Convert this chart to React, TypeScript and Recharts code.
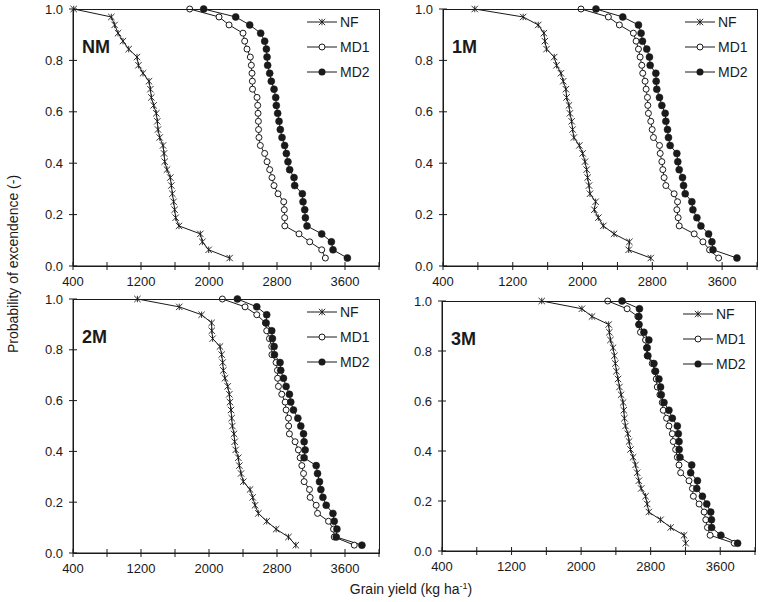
import React from "react";
import { LineChart, Line, XAxis, YAxis } from "recharts";

const probs = [
  1.0, 0.969, 0.938, 0.906, 0.875, 0.844, 0.813, 0.781, 0.75, 0.719, 0.688, 0.656, 0.625, 0.594, 0.563, 0.531,
  0.5, 0.469, 0.438, 0.406, 0.375, 0.344, 0.313, 0.281, 0.25, 0.219, 0.188, 0.156, 0.125, 0.094, 0.063, 0.031,
];

const xTicks = [400, 800, 1200, 1600, 2000, 2400, 2800, 3200, 3600, 4000];
const xLabels = [400, 1200, 2000, 2800, 3600];
const yTicks = [0, 0.2, 0.4, 0.6, 0.8, 1.0];

// grain yield (kg/ha) per probability level
const nmNF = [408, 851, 890, 930, 988, 1055, 1153, 1170, 1224, 1294, 1310, 1322, 1349, 1380, 1392, 1400, 1420, 1459, 1471, 1479, 1506, 1545, 1557, 1569, 1584, 1596, 1608, 1647, 1898, 1922, 1996, 2243];
const nmMD1 = [1773, 2118, 2236, 2400, 2420, 2447, 2486, 2498, 2506, 2510, 2512, 2565, 2573, 2577, 2581, 2583, 2588, 2604, 2655, 2683, 2714, 2741, 2765, 2812, 2879, 2886, 2890, 2892, 3059, 3185, 3326, 3369];
const nmMD2 = [1937, 2314, 2479, 2608, 2655, 2675, 2683, 2690, 2714, 2733, 2765, 2785, 2792, 2808, 2824, 2839, 2859, 2890, 2910, 2929, 2949, 3000, 3008, 3098, 3106, 3126, 3134, 3153, 3326, 3440, 3459, 3628];

const m1NF = [764, 1319, 1492, 1557, 1568, 1587, 1675, 1702, 1752, 1779, 1809, 1817, 1844, 1855, 1875, 1886, 1901, 1963, 2001, 2028, 2047, 2058, 2074, 2085, 2150, 2135, 2181, 2238, 2361, 2537, 2529, 2782];
const m1MD1 = [1982, 2296, 2422, 2583, 2614, 2641, 2660, 2679, 2690, 2717, 2729, 2744, 2748, 2755, 2782, 2798, 2813, 2882, 2890, 2909, 2920, 2935, 2955, 3050, 3089, 3081, 3096, 3108, 3280, 3380, 3456, 3560];
const m1MD2 = [2154, 2461, 2641, 2671, 2687, 2736, 2767, 2775, 2840, 2844, 2851, 2882, 2909, 2947, 2955, 2974, 2985, 3004, 3081, 3092, 3108, 3146, 3158, 3177, 3253, 3265, 3311, 3357, 3445, 3483, 3495, 3770];

const m2NF = [1158, 1650, 1913, 2031, 2033, 2043, 2129, 2149, 2161, 2169, 2188, 2220, 2239, 2247, 2259, 2267, 2275, 2294, 2302, 2314, 2345, 2357, 2377, 2404, 2483, 2514, 2542, 2581, 2679, 2790, 2935, 3021];
const m2MD1 = [2157, 2424, 2562, 2664, 2679, 2711, 2738, 2740, 2789, 2805, 2807, 2817, 2856, 2896, 2907, 2935, 2937, 2946, 3013, 3052, 3072, 3092, 3112, 3119, 3182, 3190, 3261, 3277, 3406, 3465, 3473, 3709];
const m2MD2 = [2334, 2562, 2679, 2672, 2738, 2746, 2766, 2770, 2836, 2844, 2876, 2907, 2946, 2962, 2994, 3045, 3080, 3112, 3119, 3131, 3119, 3261, 3277, 3300, 3316, 3340, 3379, 3458, 3473, 3505, 3497, 3799];

const m3NF = [1547, 2009, 2125, 2317, 2325, 2337, 2367, 2383, 2394, 2406, 2425, 2441, 2460, 2483, 2491, 2498, 2510, 2537, 2552, 2568, 2598, 2625, 2645, 2664, 2691, 2741, 2760, 2779, 2914, 3030, 3184, 3203];
const m3MD1 = [2306, 2529, 2652, 2664, 2683, 2741, 2752, 2760, 2818, 2845, 2864, 2876, 2906, 2933, 2945, 2983, 3010, 3049, 3060, 3087, 3107, 3126, 3145, 3241, 3280, 3291, 3357, 3415, 3434, 3453, 3484, 3761];
const m3MD2 = [2471, 2671, 2664, 2666, 2722, 2779, 2760, 2768, 2837, 2856, 2895, 2914, 2922, 2953, 3010, 3049, 3107, 3118, 3126, 3128, 3137, 3272, 3260, 3338, 3330, 3395, 3445, 3491, 3499, 3501, 3607, 3800];

const toRows = (ys: number[]) => ys.map((x, i) => ({ x, p: probs[i] }));

const INK = "#1a1a1a";
const FONT = "'Liberation Sans', Arial, sans-serif";
const T = 4; // half length of the crossing tick marks

const StarDot = (props: any) => {
  const { cx, cy, index } = props;
  if (cx == null || cy == null) return <g key={index} />;
  const s = 3.2;
  return (
    <g key={index} stroke={INK} strokeWidth={0.9}>
      <line x1={cx - s} y1={cy - s} x2={cx + s} y2={cy + s} />
      <line x1={cx - s} y1={cy + s} x2={cx + s} y2={cy - s} />
      <line x1={cx} y1={cy - s} x2={cx} y2={cy + s} />
    </g>
  );
};

// axis ticks drawn as a mark crossing the axis plus the label
const XTick = (props: any) => {
  const { x, y, payload } = props;
  const v = payload.value;
  return (
    <g>
      <path d={`M${x},${y - T}L${x},${y + T}`} stroke={INK} strokeWidth={1} fill="none" />
      {xLabels.includes(v) && (
        <text x={x} y={y + 20} textAnchor="middle" fontSize={13} fontFamily={FONT} fill={INK}>
          {v}
        </text>
      )}
    </g>
  );
};

const YTick = (props: any) => {
  const { x, y, payload } = props;
  return (
    <g>
      <path d={`M${x - T},${y}L${x + T},${y}`} stroke={INK} strokeWidth={1} fill="none" />
      <text x={x - 10} y={y + 4.5} textAnchor="end" fontSize={13} fontFamily={FONT} fill={INK}>
        {Number(payload.value).toFixed(1)}
      </text>
    </g>
  );
};

const LegendBox = () => {
  const rows = [
    { name: "NF", kind: "star" },
    { name: "MD1", kind: "open" },
    { name: "MD2", kind: "fill" },
  ];
  return (
    <svg width={80} height={70} style={{ overflow: "visible", display: "block" }}>
      {rows.map((r, i) => {
        const y = 5 + i * 25;
        return (
          <g key={r.name}>
            <line x1={0} x2={30} y1={y} y2={y} stroke={INK} strokeWidth={1} />
            {r.kind === "star" && <StarDot cx={15} cy={y} index={i} />}
            {r.kind === "open" && <circle cx={15} cy={y} r={3} fill="#fff" stroke={INK} />}
            {r.kind === "fill" && <circle cx={15} cy={y} r={3.5} fill={INK} />}
            <text x={33} y={y + 5} fontSize={14} fontFamily={FONT} fill={INK}>
              {r.name}
            </text>
          </g>
        );
      })}
    </svg>
  );
};

type PanelProps = {
  label: string;
  left: number;
  top: number;
  w: number;
  h: number;
  nf: number[];
  md1: number[];
  md2: number[];
};

function Panel({ label, left, top, w, h, nf, md1, md2 }: PanelProps) {
  const line = { stroke: INK, strokeWidth: 1 };
  return (
    <div style={{ position: "absolute", left: left - 60, top: top - 9, width: w + 70, height: h + 40 }}>
      <LineChart width={w + 70} height={h + 40} margin={{ top: 9, right: 10, left: 15, bottom: 0 }}>
        <XAxis
          xAxisId="b"
          type="number"
          dataKey="x"
          domain={[400, 4000]}
          ticks={xTicks}
          interval={0}
          tick={<XTick />}
          tickSize={0}
          tickMargin={0}
          height={31}
          axisLine={line}
          tickLine={false}
        />
        <YAxis
          yAxisId="l"
          type="number"
          domain={[0, 1]}
          ticks={yTicks}
          interval={0}
          tick={<YTick />}
          tickSize={0}
          tickMargin={0}
          width={45}
          axisLine={line}
          tickLine={false}
        />
        <Line
          xAxisId="b"
          yAxisId="l"
          data={toRows(nf)}
          dataKey="p"
          name="NF"
          stroke={INK}
          strokeWidth={1}
          dot={<StarDot />}
          isAnimationActive={false}
        />
        <Line
          xAxisId="b"
          yAxisId="l"
          data={toRows(md1)}
          dataKey="p"
          name="MD1"
          stroke={INK}
          strokeWidth={1}
          dot={{ r: 3, fill: "#fff", stroke: INK, strokeWidth: 1 }}
          isAnimationActive={false}
        />
        <Line
          xAxisId="b"
          yAxisId="l"
          data={toRows(md2)}
          dataKey="p"
          name="MD2"
          stroke={INK}
          strokeWidth={1}
          dot={{ r: 3.5, fill: INK, stroke: INK, strokeWidth: 0.5 }}
          isAnimationActive={false}
        />
      </LineChart>
      {/* plot frame */}
      <div
        style={{
          position: "absolute",
          left: 60,
          top: 9,
          width: w - 1,
          height: h - 1,
          border: `1px solid ${INK}`,
          pointerEvents: "none",
        }}
      />
      <div style={{ position: "absolute", left: 60 + w - 72, top: 9 + 8 }}>
        <LegendBox />
      </div>
      <div
        style={{
          position: "absolute",
          left: 60 + 9,
          top: 9 + 28,
          fontFamily: FONT,
          fontWeight: "bold",
          fontSize: 18,
          color: INK,
        }}
      >
        {label}
      </div>
    </div>
  );
}

export default function App() {
  return (
    <div style={{ position: "absolute", left: 0, top: 0, width: 765, height: 602, background: "#fff" }}>
      <Panel label="NM" left={73} top={9} w={306} h={257} nf={nmNF} md1={nmMD1} md2={nmMD2} />
      <Panel label="1M" left={443} top={9} w={314} h={257} nf={m1NF} md1={m1MD1} md2={m1MD2} />
      <Panel label="2M" left={73} top={299} w={306} h={254} nf={m2NF} md1={m2MD1} md2={m2MD2} />
      <Panel label="3M" left={442} top={301} w={313} h={250} nf={m3NF} md1={m3MD1} md2={m3MD2} />
      <svg width={765} height={602} style={{ position: "absolute", left: 0, top: 0, pointerEvents: "none" }}>
        <text
          x={18}
          y={264}
          transform="rotate(-90 18 264)"
          textAnchor="middle"
          fontSize={14}
          fontFamily={FONT}
          fill={INK}
        >
          Probability of excendence (-)
        </text>
        <text x={411} y={594} textAnchor="middle" fontSize={14} fontFamily={FONT} fill={INK}>
          Grain yield (kg ha
          <tspan dy={-5} fontSize={9}>-1</tspan>
          <tspan dy={5}>)</tspan>
        </text>
      </svg>
    </div>
  );
}
